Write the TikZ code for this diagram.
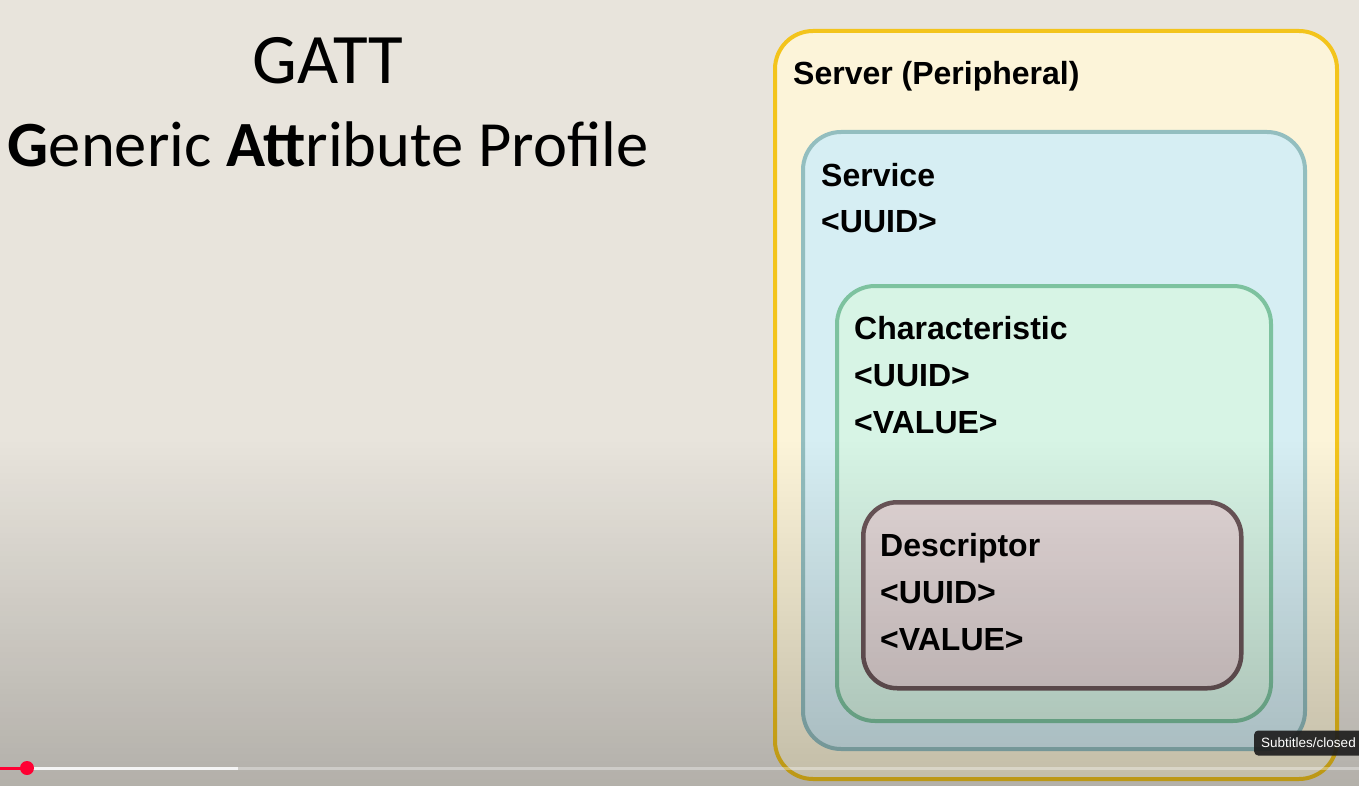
\documentclass[tikz,border=0pt]{standalone}
\usepackage{fontspec}
\setmainfont{Liberation Sans}
\newfontfamily\titlefont{Carlito}
\usepackage{xcolor}
\definecolor{cBack}{HTML}{E8E4DC}
\definecolor{cServer}{HTML}{F3C41C}
\definecolor{cServerFill}{HTML}{FCF4D9}
\definecolor{cService}{HTML}{93BEBF}
\definecolor{cServiceFill}{HTML}{D6EEF3}
\definecolor{cChar}{HTML}{7DC29F}
\definecolor{cCharFill}{HTML}{D7F4E5}
\definecolor{cDesc}{HTML}{6B5659}
\definecolor{cDescFill}{HTML}{E3D7D7}
\definecolor{cRed}{HTML}{FF0033}
\definecolor{cTip}{HTML}{1E1E1E}
\usepackage{tikz}
\usetikzlibrary{positioning,calc,fadings}
\tikzset{
  box/.style={rounded corners=38pt,line width=4pt,anchor=north west,inner sep=0pt},
  box-server/.style={box,draw=cServer,fill=cServerFill},
  box-service/.style={box,draw=cService,fill=cServiceFill},
  box-char/.style={box,draw=cChar,fill=cCharFill},
  box-desc/.style={box,draw=cDesc,fill=cDescFill,line width=4.5pt,rounded corners=34pt},
  % one line of text inside a box, placed by its baseline
  box-text/.style={anchor=base west,inner sep=0pt,
    font=\bfseries\fontsize{32}{38}\selectfont},
  title-text/.style={anchor=base,inner sep=0pt,font=\titlefont\fontsize{64.5}{70}\selectfont},
  bar/.style={line width=3pt},
  tip/.style={fill=cTip,fill opacity=0.92,text opacity=1,text=white,rounded corners=4pt,
    anchor=west,inner xsep=7pt,minimum height=25pt,font=\fontsize{13.5}{16}\selectfont},
}
\tikzfading[name=fade-bottom,top color=transparent!100,bottom color=transparent!0]

\begin{document}
\begin{tikzpicture}[x=1pt,y=-1pt]
  \useasboundingbox[fill=cBack] (0,0) rectangle (1359,786);

  \node[title-text,font=\titlefont\fontsize{71}{76}\selectfont] (gatt) at (328,84) {GATT};
  \node[title-text] (gatt-long) at (328,167)
    {\textbf{G}eneric \textbf{Att}ribute Profile};

  \node[box-server,minimum width=562pt,minimum height=748pt] (server) at (773,29) {};
  \node[box-service,minimum width=502pt,minimum height=617pt] (service) at (801,130) {};
  \node[box-char,minimum width=434pt,minimum height=435pt] (char) at (835,284) {};
  \node[box-desc,minimum width=378pt,minimum height=186pt] (desc) at (861,500) {};

  \node[box-text] (server-name) at ($(server.north west)+(20,56)$) {Server (Peripheral)};
  \node[box-text] (service-name) at ($(service.north west)+(20,57)$) {Service};
  \node[box-text] (service-uuid) at ($(service-name.base west)+(0,46)$) {<UUID>};
  \node[box-text] (char-name) at ($(char.north west)+(19,55)$) {Characteristic};
  \node[box-text] (char-uuid) at ($(char-name.base west)+(0,47)$) {<UUID>};
  \node[box-text] (char-value) at ($(char-uuid.base west)+(0,47)$) {<VALUE>};
  \node[box-text] (desc-name) at ($(desc.north west)+(19,56)$) {Descriptor};
  \node[box-text] (desc-uuid) at ($(desc-name.base west)+(0,47)$) {<UUID>};
  \node[box-text] (desc-value) at ($(desc-uuid.base west)+(0,47)$) {<VALUE>};

  \fill[black,opacity=0.3,path fading=fade-bottom] (-10,440) rectangle (1370,900);

  \coordinate (bar-start) at (0,768);
  \coordinate (bar-played) at (27,768);
  \coordinate (bar-loaded) at (238,768);
  \coordinate (bar-end) at (1359,768);
  \draw[bar,white,opacity=0.35] (bar-loaded) -- (bar-end);
  \draw[bar,white!92!gray] (bar-played) -- (bar-loaded);
  \draw[bar,cRed] (bar-start) -- (bar-played);
  \fill[cRed] (bar-played) circle (7pt);

  \node[tip] (subtitles) at (1254,743) {Subtitles/closed};
\end{tikzpicture}
\end{document}
